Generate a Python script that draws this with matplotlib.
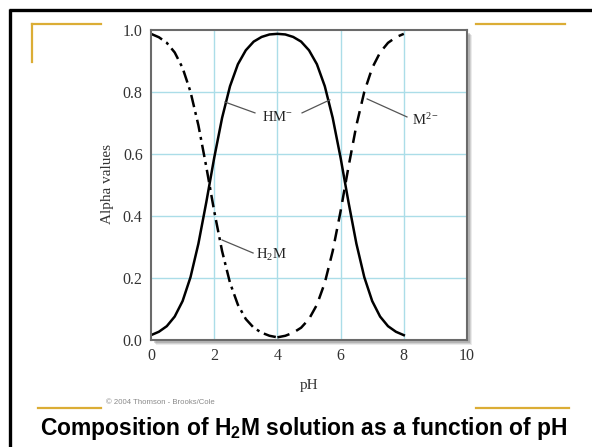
import matplotlib
matplotlib.use("Agg")
import matplotlib.pyplot as plt
from matplotlib.patches import Rectangle
from matplotlib.lines import Line2D

plt.rcParams['mathtext.fontset'] = 'custom'
plt.rcParams['mathtext.rm'] = 'Liberation Serif'
plt.rcParams['mathtext.it'] = 'Liberation Serif:italic'
plt.rcParams['mathtext.bf'] = 'Liberation Sans:bold'

# ---- data ----
ph = [0.0, 0.25, 0.5, 0.75, 1.0, 1.25, 1.5, 1.75, 2.0, 2.25, 2.5, 2.75, 3.0,
      3.25, 3.5, 3.75, 4.0, 4.25, 4.5, 4.75, 5.0, 5.25, 5.5, 5.75, 6.0, 6.25,
      6.5, 6.75, 7.0, 7.25, 7.5, 7.75, 8.0]
alpha_h2m = [0.986, 0.975, 0.957, 0.926, 0.876, 0.799, 0.691, 0.557, 0.414,
             0.285, 0.183, 0.112, 0.066, 0.038, 0.022, 0.012, 0.007]
alpha_hm = [0.014, 0.025, 0.043, 0.074, 0.124, 0.201, 0.309, 0.443, 0.586,
            0.715, 0.817, 0.888, 0.933, 0.961, 0.976, 0.984, 0.986, 0.984,
            0.976, 0.961, 0.933, 0.888, 0.817, 0.715, 0.586, 0.443, 0.309,
            0.201, 0.124, 0.074, 0.043, 0.025, 0.014]
alpha_m = [0.007, 0.012, 0.022, 0.038, 0.066, 0.112, 0.183, 0.285, 0.414,
           0.557, 0.691, 0.799, 0.876, 0.926, 0.957, 0.975, 0.986]
ph_h2m = ph[:17]
ph_m = ph[16:]

x_ticks = [0, 2, 4, 6, 8, 10]
y_ticks = [0.0, 0.2, 0.4, 0.6, 0.8, 1.0]
y_ticklabels = ['0.0', '0.2', '0.4', '0.6', '0.8', '1.0']

W, H = 592, 447
fig = plt.figure(figsize=(W / 100, H / 100), dpi=100)
fig.patch.set_facecolor('white')

def fx(px):
    return px / W

def fy(py):
    return 1 - py / H

# slide border (top and left visible)
fig.add_artist(Line2D([fx(8.8), 1.0], [fy(10), fy(10)], color='black', lw=2.4,
                      solid_capstyle='butt', transform=fig.transFigure))
fig.add_artist(Line2D([fx(10), fx(10)], [fy(8.8), 0.0], color='black', lw=2.4,
                      solid_capstyle='butt', transform=fig.transFigure))

gold = '#dbad35'
for (x0, y0, x1, y1) in [(32, 23.7, 101, 23.7), (32.3, 23.7, 32.3, 62.3),
                         (476, 23.7, 565, 23.7), (38, 407.7, 101, 407.7),
                         (476, 407.7, 569, 407.7)]:
    fig.add_artist(Line2D([fx(x0), fx(x1)], [fy(y0), fy(y1)], color=gold, lw=1.6,
                          transform=fig.transFigure))

# axes
left, right, top, bottom = 151, 467, 29.5, 339.5
ax = fig.add_axes([fx(left), fy(bottom), (right - left) / W, (bottom - top) / H])

# shadow
for off, a in [(5, 0.12), (4, 0.18), (3, 0.25)]:
    fig.add_artist(Rectangle((fx(left + off), fy(bottom + off)), (right - left) / W, (bottom - top) / H,
                             transform=fig.transFigure, facecolor='#606060', edgecolor='none',
                             alpha=a, zorder=-1))

ax.set_xlim(0, 10)
ax.set_ylim(0, 1.0)
ax.set_xticks(x_ticks)
ax.set_yticks(y_ticks)
ax.set_yticklabels(y_ticklabels)
for v in [2, 4, 6, 8]:
    ax.axvline(v, color='#abdde8', lw=1.0, zorder=0)
for v in [0.2, 0.4, 0.6, 0.8]:
    ax.axhline(v, color='#abdde8', lw=1.0, zorder=0)

ax.tick_params(length=0, pad=6, labelsize=11.5, labelcolor='#333333')
for lab in ax.get_xticklabels() + ax.get_yticklabels():
    lab.set_family('Liberation Serif')
for s in ax.spines.values():
    s.set_color('#6a6a6a')
    s.set_linewidth(1.5)

ax.plot(ph, alpha_hm, color='black', lw=1.8, solid_joinstyle='round')
ax.plot(ph_h2m, alpha_h2m, color='black', lw=1.8, linestyle=(0, (5, 2, 1.2, 2)), dash_capstyle='butt')
ax.plot(ph_m, alpha_m, color='black', lw=1.8, linestyle=(0, (5, 3)), dash_capstyle='butt')

ax.set_xlabel('pH', family='Liberation Serif', fontsize=11, color='#333333', labelpad=11)
ax.set_ylabel('Alpha values', family='Liberation Serif', fontsize=11, color='#333333', labelpad=6)

lc = '#555555'
ax.plot([2.34, 3.29], [0.766, 0.731], color=lc, lw=0.9)
ax.plot([4.78, 5.66], [0.731, 0.773], color=lc, lw=0.9)
ax.plot([6.84, 8.10], [0.776, 0.718], color=lc, lw=0.9)
ax.plot([2.25, 3.23], [0.321, 0.279], color=lc, lw=0.9)
ax.text(3.99, 0.718, 'HM$^{-}$', ha='center', va='center', family='Liberation Serif', fontsize=10.5, color='#222222')
ax.text(8.27, 0.708, 'M$^{2-}$', ha='left', va='center', family='Liberation Serif', fontsize=10.5, color='#222222')
ax.text(3.33, 0.272, 'H$_{\\mathrm{2}}$M', ha='left', va='center', family='Liberation Serif', fontsize=10.5, color='#222222')

fig.text(fx(106), fy(403), '\u00a9 2004 Thomson - Brooks/Cole', fontsize=5.6, color='#8a8a8a',
         family='Liberation Sans', ha='left', va='center')
fig.text(fx(303.5), fy(429), 'Composition of H$_\\mathbf{2}$M solution as a function of pH',
         fontsize=16.5, fontweight='bold', family='Liberation Sans', ha='center', va='center')

fig.savefig('out.png', dpi=100, facecolor='white')
